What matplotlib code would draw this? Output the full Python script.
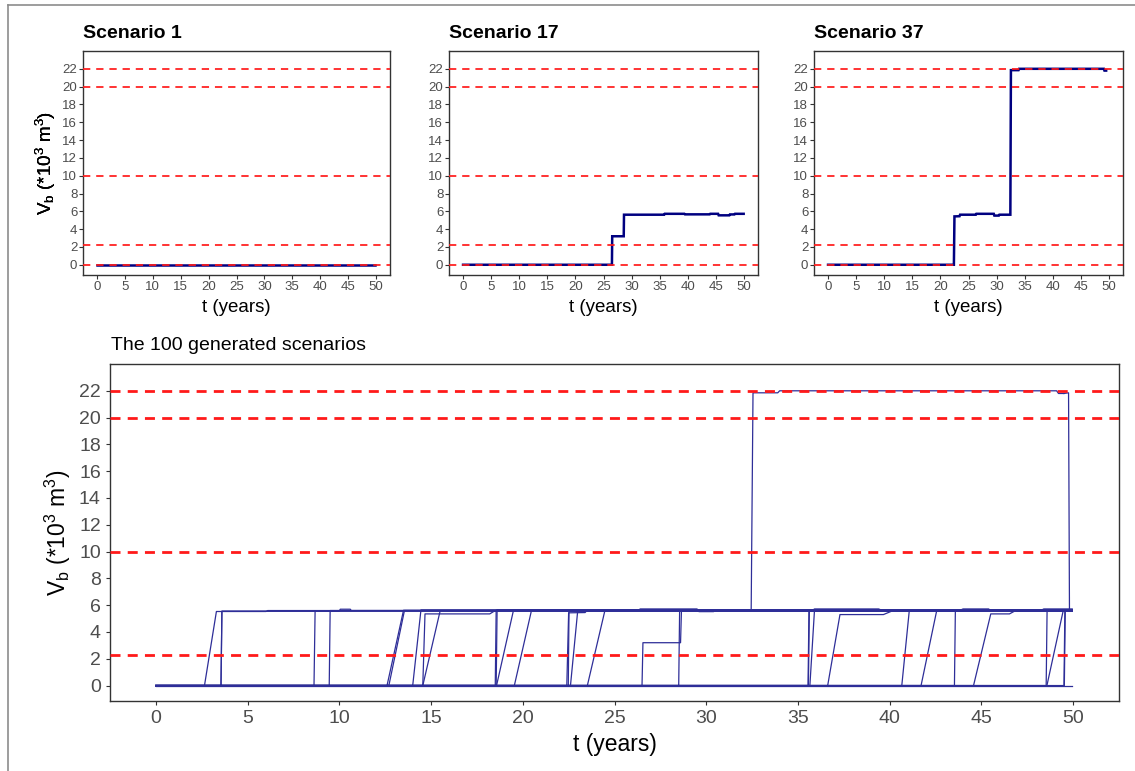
import matplotlib
matplotlib.use('Agg')
import matplotlib.pyplot as plt
from matplotlib.lines import Line2D

plt.rcParams['font.family'] = ['Liberation Sans', 'DejaVu Sans']
plt.rcParams['mathtext.default'] = 'regular'

W, H = 1135, 771

# ---------------- data ----------------
x_ticks = list(range(0, 51, 5))
y_ticks = list(range(0, 23, 2))
thresholds_top = [0, 2.25, 10, 20, 22]
thresholds_bottom = [2.25, 10, 20, 22]

titles_top = ['Scenario 1', 'Scenario 17', 'Scenario 37']
title_bottom = 'The 100 generated scenarios'
x_label = 't (years)'
y_label = r'V$_{b}$ (*10$^{3}$ m$^{3}$)'

# scenario 1
sc1_t = [0, 49.9]
sc1_v = [0, 0]
# scenario 17
sc17_t = [0, 26.5, 26.55, 28.6, 28.65, 35.8, 35.9, 39.4, 39.5, 43.9, 44.0, 45.4, 45.5, 47.4, 47.5, 48.3, 48.4, 49.95]
sc17_v = [0, 0, 3.2, 3.2, 5.62, 5.62, 5.72, 5.72, 5.66, 5.66, 5.72, 5.72, 5.55, 5.55, 5.65, 5.65, 5.72, 5.72]
# scenario 37
sc37_t = [0, 22.4, 22.5, 23.4, 23.5, 26.3, 26.4, 29.5, 29.6, 30.4, 30.5, 32.45, 32.55, 33.9, 34.0, 49.1, 49.2, 49.5]
sc37_v = [0, 0, 5.43, 5.45, 5.62, 5.62, 5.72, 5.72, 5.52, 5.52, 5.62, 5.62, 21.85, 21.85, 22.0, 22.0, 21.8, 21.8]

# other scenarios of the 100: simple rises from 0 to a plateau
rise_start = [3.55, 8.62, 9.45, 12.6, 12.7, 14.0, 14.55, 18.5, 18.55, 18.57, 19.54, 22.48, 22.6,
              23.52, 28.5, 35.55, 35.57, 35.65, 40.66, 41.71, 43.53, 48.53, 48.57, 49.5, 49.52]
rise_end = [3.6, 8.68, 9.5, 13.5, 13.55, 14.45, 15.5, 18.55, 18.6, 19.49, 20.48, 22.52, 23.0,
            24.48, 28.55, 35.6, 35.62, 35.9, 41.07, 42.57, 43.58, 48.58, 49.47, 49.55, 49.57]
rise_level = [5.55, 5.58, 5.6, 5.62, 5.6, 5.65, 5.6, 5.62, 5.66, 5.6, 5.64, 5.6, 5.66,
              5.62, 5.6, 5.62, 5.66, 5.6, 5.62, 5.64, 5.6, 5.62, 5.66, 5.6, 5.64]

# scenarios with intermediate plateaus
scA_t = [0, 2.65, 3.3, 6.0, 6.1, 49.95]
scA_v = [0, 0, 5.53, 5.53, 5.6, 5.6]
scH_t = [0, 14.55, 14.67, 18.2, 18.5, 49.95]
scH_v = [0, 0, 5.35, 5.35, 5.6, 5.6]
scT_t = [0, 36.62, 37.29, 39.66, 40.1, 49.95]
scT_v = [0, 0, 5.3, 5.3, 5.55, 5.55]
scX_t = [0, 44.57, 45.51, 46.53, 46.8, 49.95]
scX_v = [0, 0, 5.35, 5.35, 5.55, 5.55]
scB_t = [0, 3.55, 3.6, 10.0, 10.05, 10.6, 10.65, 49.95]
scB_v = [0, 0, 5.55, 5.55, 5.7, 5.7, 5.6, 5.6]
scTail_t = [49.5, 49.75, 49.8, 49.95]
scTail_v = [21.8, 21.85, 5.6, 5.6]
scZero_t = [0, 49.95]
scZero_v = [0, 0]

# ---------------- style ----------------
RED = '#FF1A1A'
NAVY = '#000080'
LINE_B = '#2E2E98'
TICK_C = '#4D4D4D'
FRAME_C = '#333333'

fig = plt.figure(figsize=(W / 100, H / 100), dpi=100)
fig.patch.set_facecolor('white')


def px_axes(left, top, right, bottom):
    return fig.add_axes([left / W, 1 - bottom / H, (right - left) / W, (bottom - top) / H])


def style_axes(ax, tick_size, tick_pad, lab_size):
    ax.set_xlim(-2.5, 52.5)
    ax.set_ylim(-1.15, 24.0)
    ax.set_xticks(x_ticks)
    ax.set_yticks(y_ticks)
    for s in ax.spines.values():
        s.set_color(FRAME_C)
        s.set_linewidth(1.0)
    ax.tick_params(axis='both', direction='out', length=2.6, width=0.8, color=FRAME_C,
                   labelcolor=TICK_C, labelsize=tick_size, pad=tick_pad)
    ax.set_xlabel(x_label, fontsize=lab_size)
    ax.set_ylabel(y_label, fontsize=lab_size)
    ax.xaxis.label.set_va('center')
    ax.yaxis.label.set_va('center')


top_boxes = [(83, 51, 390, 275), (449, 51, 758, 275), (814, 51, 1123, 275)]
top_data = [(sc1_t, sc1_v), (sc17_t, sc17_v), (sc37_t, sc37_v)]

for (l, t, r, b), (tt, vv), ttl in zip(top_boxes, top_data, titles_top):
    ax = px_axes(l, t, r, b)
    style_axes(ax, 9.5, 1.5, 13.5)
    ax.plot(tt, vv, color=NAVY, lw=1.8, zorder=2, solid_joinstyle='miter')
    for y in thresholds_top:
        ax.axhline(y, color=RED, lw=1.25, dashes=(4.2, 3.4), zorder=3)
    ax.xaxis.set_label_coords(0.5, (b - 307) / (b - t))
    ax.yaxis.set_label_coords((46 - l) / (r - l), 0.5)
    fig.text(l / W, 1 - 33 / H, ttl, fontsize=14, fontweight='bold', ha='left', va='center')

# bottom panel
l, t, r, b = 110, 364, 1119, 701
axb = px_axes(l, t, r, b)
style_axes(axb, 14, 4, 16.5)
paths = [(scZero_t, scZero_v), (scA_t, scA_v), (scB_t, scB_v), (scH_t, scH_v), (scT_t, scT_v),
         (scX_t, scX_v), (sc17_t, sc17_v), (sc37_t, sc37_v), (scTail_t, scTail_v)]
for s0, s1, lv in zip(rise_start, rise_end, rise_level):
    paths.append(([0, s0, s1, 49.95], [0, 0, lv, lv]))
for tt, vv in paths:
    axb.plot(tt, vv, color=LINE_B, lw=0.9, zorder=2)
for y in thresholds_bottom:
    axb.axhline(y, color=RED, lw=2.0, dashes=(3.6, 2.6), zorder=3)
axb.xaxis.set_label_coords(0.5, (b - 745) / (b - t))
axb.yaxis.set_label_coords((58 - l) / (r - l), 0.5)
fig.text(111 / W, 1 - 346 / H, title_bottom, fontsize=14, ha='left', va='center')

# outer frame (top and left edges)
fig.add_artist(Line2D([8 / W, 1], [1 - 5 / H, 1 - 5 / H], color='#8C8C8C', lw=1.2))
fig.add_artist(Line2D([8 / W, 8 / W], [0, 1 - 5 / H], color='#8C8C8C', lw=1.2))

fig.savefig('out.png', dpi=100, facecolor='white')
